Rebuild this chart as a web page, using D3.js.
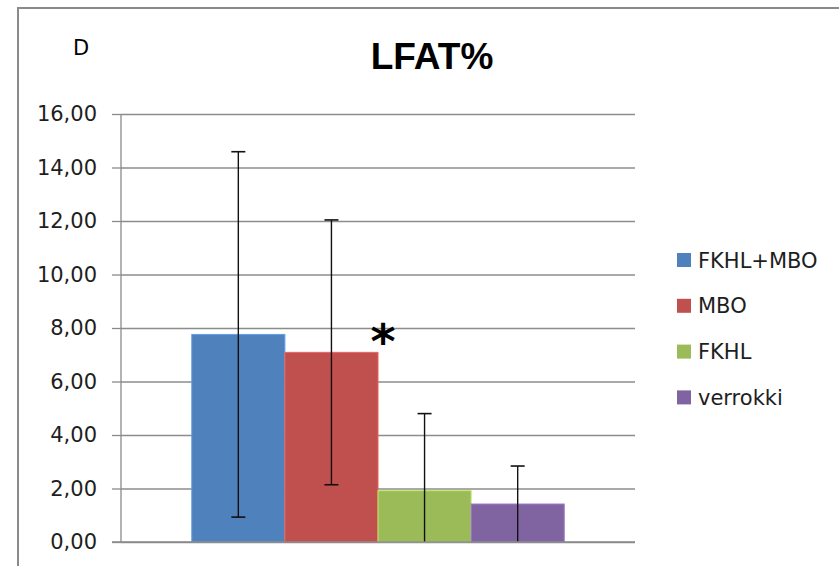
<!DOCTYPE html>
<html>
<head>
<meta charset="utf-8">
<script src="https://cdn.jsdelivr.net/npm/d3@7"></script>
<style>
  html, body { margin: 0; padding: 0; background: #fff; }
  svg { display: block; }
</style>
</head>
<body>
<svg id="chart" width="839" height="566"></svg>
<script>
// LFAT% by group: mean with SD error bars
const series = ["FKHL+MBO", "MBO", "FKHL", "verrokki"];
const means = [7.76, 7.09, 1.92, 1.42];
const sds = [6.83, 4.95, 2.88, 1.42];
const colors = ["#4F81BD", "#C0504D", "#9BBB59", "#8064A2"];
const yTicks = [0, 2, 4, 6, 8, 10, 12, 14, 16];
const category = ["LFAT%"];
const significant = ["MBO"];

const svg = d3.select("#chart");
const W = 839, H = 566;
const plot = { left: 121, right: 635, top: 114, bottom: 542 };
const textFont = "'DejaVu Sans', sans-serif";

// outer chart frame (runs past the right and bottom edges)
svg.append("rect")
  .attr("x", 18).attr("y", 8)
  .attr("width", W + 20).attr("height", H + 20)
  .attr("fill", "#fff")
  .attr("stroke", "#8a8a8a").attr("stroke-width", 2);

// panel letter and title
svg.append("text")
  .attr("x", 73).attr("y", 55)
  .attr("font-family", textFont).attr("font-size", 21)
  .attr("fill", "#000").text("D");

svg.append("text")
  .attr("x", 432).attr("y", 69)
  .attr("text-anchor", "middle")
  .attr("font-family", "'Liberation Sans', Arial, sans-serif")
  .attr("font-weight", "bold").attr("font-size", 37)
  .attr("fill", "#000").text("LFAT%");

const y = d3.scaleLinear().domain([0, 16]).range([plot.bottom, plot.top]);
const x0 = d3.scaleBand().domain(category).range([plot.left, plot.right])
  .paddingInner(0).paddingOuter(0.19);
const x1 = d3.scaleBand().domain(series).range([0, x0.bandwidth()]).padding(0);

// horizontal gridlines
svg.append("g")
  .attr("transform", `translate(${plot.left},0)`)
  .call(d3.axisLeft(y).tickValues(yTicks).tickSize(-(plot.right - plot.left)).tickFormat(""))
  .call(g => g.select(".domain").remove())
  .call(g => g.selectAll(".tick line").attr("stroke", "#8c8c8c").attr("stroke-width", 1.3));

// value axis with comma decimals
const fmt = d => d3.format(".2f")(d).replace(".", ",");
svg.append("g")
  .attr("transform", `translate(${plot.left},0)`)
  .call(d3.axisLeft(y).tickValues(yTicks).tickSize(9).tickPadding(15).tickFormat(fmt))
  .call(g => g.select(".domain").attr("d", `M0,${plot.top}V${plot.bottom}`).attr("stroke", "#8a8a8a").attr("stroke-width", 1.3))
  .call(g => g.selectAll(".tick line").attr("stroke", "#8a8a8a").attr("stroke-width", 1.3))
  .call(g => g.selectAll(".tick text")
    .attr("font-family", textFont).attr("font-size", 21).attr("fill", "#1e1e1e"));

// bars
const rows = series.map((s, i) => ({ s, mean: means[i], sd: sds[i], color: colors[i] }));
const group = svg.append("g").attr("transform", `translate(${x0(category[0])},0)`);

group.selectAll("rect.bar")
  .data(rows)
  .join("rect")
  .attr("class", "bar")
  .attr("x", d => x1(d.s))
  .attr("y", d => y(d.mean))
  .attr("width", x1.bandwidth())
  .attr("height", d => y(0) - y(d.mean))
  .attr("fill", d => d.color)
  .attr("stroke", d => d3.color(d.color).brighter(0.6))
  .attr("stroke-width", 1);

// category axis line at zero
svg.append("line")
  .attr("x1", plot.left - 9).attr("x2", plot.right)
  .attr("y1", y(0)).attr("y2", y(0))
  .attr("stroke", "#8a8a8a").attr("stroke-width", 1.5);

// error bars (mean ± SD, clipped at zero)
const cap = 7;
const eb = group.selectAll("g.err").data(rows).join("g").attr("class", "err")
  .attr("transform", d => `translate(${x1(d.s) + x1.bandwidth() / 2},0)`);
eb.append("line")
  .attr("y1", d => y(Math.max(0, d.mean - d.sd)))
  .attr("y2", d => y(d.mean + d.sd))
  .attr("stroke", "#111").attr("stroke-width", 1.4);
eb.append("line")
  .attr("x1", -cap).attr("x2", cap)
  .attr("y1", d => y(d.mean + d.sd)).attr("y2", d => y(d.mean + d.sd))
  .attr("stroke", "#111").attr("stroke-width", 1.6);
eb.filter(d => d.mean - d.sd > 0).append("line")
  .attr("x1", -cap).attr("x2", cap)
  .attr("y1", d => y(d.mean - d.sd)).attr("y2", d => y(d.mean - d.sd))
  .attr("stroke", "#111").attr("stroke-width", 1.6);

// significance marker
group.selectAll("text.sig")
  .data(rows.filter(d => significant.includes(d.s)))
  .join("text")
  .attr("class", "sig")
  .attr("x", d => x1(d.s) + x1.bandwidth() + 5)
  .attr("y", d => y(d.mean) + 6)
  .attr("text-anchor", "middle")
  .attr("font-family", "'DejaVu Sans', sans-serif")
  .attr("font-weight", "bold").attr("font-size", 48)
  .attr("fill", "#000").text("*");

// legend
const legend = svg.append("g").attr("transform", "translate(677,260)");
const items = legend.selectAll("g").data(rows).join("g")
  .attr("transform", (d, i) => `translate(0,${i * 45.8})`);
items.append("rect")
  .attr("x", 0).attr("y", -7).attr("width", 14).attr("height", 14)
  .attr("fill", d => d.color);
items.append("text")
  .attr("x", 21).attr("y", 0).attr("dy", "0.36em")
  .attr("font-family", textFont).attr("font-size", 21).attr("fill", "#1e1e1e")
  .text(d => d.s);
</script>
</body>
</html>
